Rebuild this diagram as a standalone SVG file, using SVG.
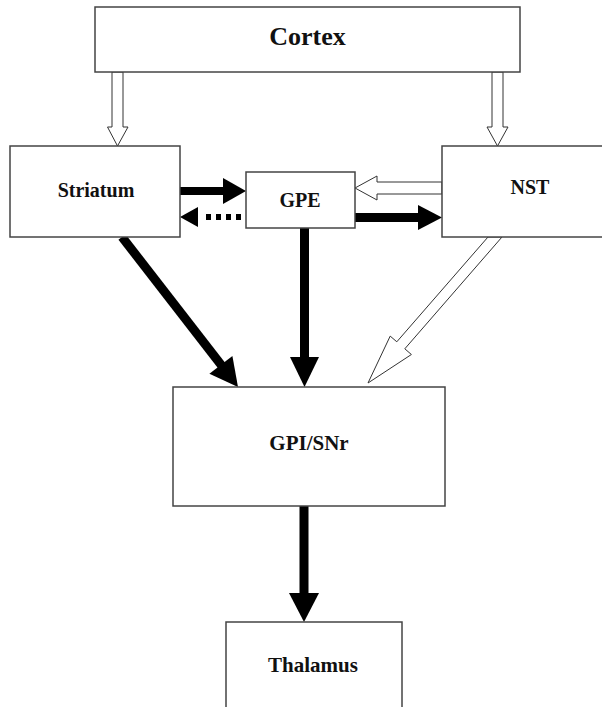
<svg xmlns="http://www.w3.org/2000/svg" width="602" height="707" viewBox="0 0 602 707">
<style>
.box{fill:#fff;stroke:#444;stroke-width:1.5}
.lbl{font-family:"Liberation Serif","Times New Roman",serif;font-weight:bold;fill:#111;text-anchor:middle}
.hol{fill:#fff;stroke:#333;stroke-width:1}
.sh{stroke:#000;stroke-width:9;fill:none}
.hd{fill:#000;stroke:none}
</style>
<rect width="602" height="707" fill="#fff"/>
<g id="connectors">
<polygon class="hol" points="112,72 112,127 107.5,127 117.5,146 128,127 123,127 123,72"/>
<polygon class="hol" points="492,72 492,127 487,127 497.5,146 508,127 503,127 503,72"/>
<polygon class="hol" points="442,182 377,182 377,176 355,188 377,200 377,194 442,194"/>
<line class="sh" x1="180" y1="191" x2="224" y2="191" style="stroke-width:8"/>
<polygon class="hd" points="223,178 246,191 223,204"/>
<line class="sh" x1="241" y1="217" x2="205" y2="217" style="stroke-width:6;stroke-dasharray:5 5"/>
<polygon class="hd" points="198,207 180,217 198,227"/>
<line class="sh" x1="355" y1="217.5" x2="419" y2="217.5"/>
<polygon class="hd" points="418,205 442,217.5 418,230"/>
<line class="sh" x1="122" y1="237" x2="222" y2="366"/>
<polygon class="hd" points="209.4,373.8 238,387 232.4,356"/>
<line class="sh" x1="304.5" y1="228" x2="304.5" y2="358"/>
<polygon class="hd" points="290,357 319,357 304.5,387"/>
<polygon class="hol" points="488,237 396.8,341.8 390.2,336.1 368,383 411.4,354.5 404.8,348.8 502,237"/>
<line class="sh" x1="304" y1="506" x2="304" y2="594"/>
<polygon class="hd" points="289,593 319,593 304,622"/>
</g>
<g id="cortex">
<rect class="box" x="95" y="7" width="425" height="65"/>
<text class="lbl" x="307.5" y="45" font-size="26">Cortex</text>
</g>
<g id="striatum">
<rect class="box" x="10" y="146" width="170" height="91"/>
<text class="lbl" x="96" y="197" font-size="20">Striatum</text>
</g>
<g id="gpe">
<rect class="box" x="246" y="172" width="109" height="56"/>
<text class="lbl" x="300" y="207" font-size="20">GPE</text>
</g>
<g id="nst">
<rect class="box" x="442" y="146" width="180" height="91"/>
<text class="lbl" x="530" y="194" font-size="20">NST</text>
</g>
<g id="gpi">
<rect class="box" x="173" y="387" width="272" height="119"/>
<text class="lbl" x="309" y="450" font-size="21">GPI/SNr</text>
</g>
<g id="thalamus">
<rect class="box" x="226" y="622" width="176" height="100"/>
<text class="lbl" x="313" y="672" font-size="21">Thalamus</text>
</g>
</svg>
